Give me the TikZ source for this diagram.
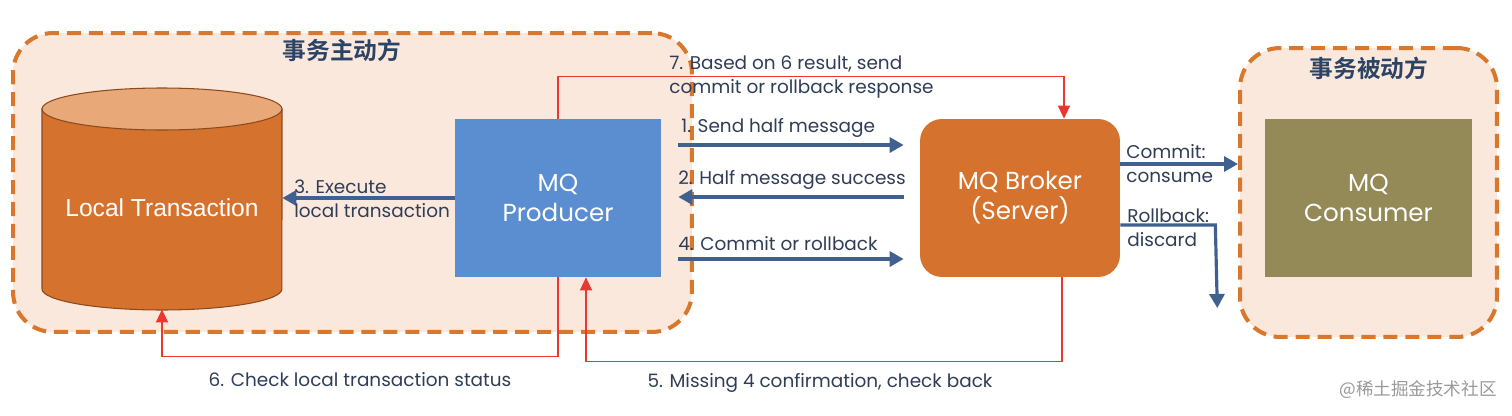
\documentclass[tikz,border=0pt]{standalone}
\usepackage{fontspec}
\setmainfont{Poppins}
\newfontfamily\cjk{Noto Sans CJK SC}
\newfontfamily\cjkbold{Noto Sans CJK SC Bold}
\newfontfamily\arialfont{Liberation Sans}
\usetikzlibrary{arrows.meta}
\definecolor{peach}{HTML}{FBE8DC}
\definecolor{dashorange}{HTML}{D9782D}
\definecolor{boxorange}{HTML}{D5722D}
\definecolor{cyltop}{HTML}{E8A877}
\definecolor{cyledge}{HTML}{8A4A1E}
\definecolor{prodblue}{HTML}{5B8ED1}
\definecolor{olive}{HTML}{948A57}
\definecolor{arrowblue}{HTML}{40618F}
\definecolor{linered}{HTML}{E8382F}
\definecolor{txtnavy}{HTML}{2F3D56}
\definecolor{titlenavy}{HTML}{2B4364}

\begin{document}
\begin{tikzpicture}[x=0.02cm,y=-0.02cm,
	group/.style={draw=dashorange,fill=peach,line width=2.3pt,dash pattern=on 8pt off 4.5pt,rounded corners=0.8cm},
	box/.style={minimum width=#1,minimum height=3.16cm,inner sep=0pt,text=white,align=center,font=\fontsize{14}{17}\selectfont},
	blue arrow/.style={draw=arrowblue,line width=1.8pt,-{Triangle[length=0.28cm,width=0.3cm]}},
	red arrow/.style={draw=linered,line width=0.8pt,-{Triangle[length=0.26cm,width=0.24cm]}},
	lbl/.style={text=txtnavy,font=\fontsize{10.5}{13.6}\selectfont,inner sep=0pt,align=left},
	title/.style={text=titlenavy,font=\cjkbold\fontsize{13.5}{16}\selectfont}]
	\useasboundingbox (0,0) rectangle (1512,416);
	\node[group,minimum width=13.58cm,minimum height=5.98cm] (active) at (352.5,182.5) {};
	\node[group,minimum width=5.14cm,minimum height=5.78cm] (passive) at (1368.5,192.5) {};
	\node[title] (activetitle) at (342,50) {事务主动方};
	\node[title] (passivetitle) at (1369,68) {事务被动方};
	\draw[cyledge,fill=boxorange,line width=0.6pt] (42,109) -- (42,289) arc[start angle=180,end angle=360,x radius=2.4cm,y radius=0.42cm] -- (282,109) -- cycle;
	\draw[cyledge,fill=cyltop,line width=0.6pt] (162,109) ellipse [x radius=2.4cm,y radius=0.42cm];
	\node[minimum width=4.8cm,minimum height=4.44cm,inner sep=0pt] (lt) at (162,198) {};
	\node[text=white,font=\arialfont\fontsize{14}{17}\selectfont] (ltlabel) at (162,208) {Local Transaction};
	\node[box=4.12cm,fill=prodblue] (prod) at (558,198) {MQ\\Producer};
	\node[box=4cm,fill=boxorange,rounded corners=0.44cm] (brk) at (1020,198) {MQ Broker\\(Server)};
	\node[box=4.14cm,fill=olive] (cons) at (1368.5,198) {MQ\\Consumer};
	\draw[blue arrow] (prod.west) -- (lt.east);
	\draw[blue arrow] ([shift={(17,-53)}]prod.east) -- ([shift={(-16,-53)}]brk.west);
	\draw[blue arrow] ([shift={(-16,-1)}]brk.west) -- ([shift={(17,-1)}]prod.east);
	\draw[blue arrow] ([shift={(17,61)}]prod.east) -- ([shift={(-16,61)}]brk.west);
	\coordinate (commit) at ([shift={(0,-34)}]brk.east);
	\coordinate (rollback) at ([shift={(0,27)}]brk.east);
	\draw[blue arrow] (commit) -- (commit -| passive.west);
	\draw[blue arrow] (rollback) -- ++(95,0) -- ++(2,83);
	\draw[red arrow] (prod.south) -- ++(0,79) -| (lt.south);
	\draw[red arrow] ([shift={(42,0)}]brk.south) -- ++(0,84) -| ([shift={(28,0)}]prod.south);
	\draw[red arrow] (prod.north) -- ++(0,-42) -| ([shift={(44,0)}]brk.north);
	\node[lbl,anchor=west] (l1) at (681,128) {1. Send half message};
	\node[lbl,anchor=west] (l2) at (678,180) {2. Half message success};
	\node[lbl,anchor=west] (l3) at (294,199) {3. Execute\\local transaction};
	\node[lbl,anchor=west] (l4) at (678,244) {4. Commit or rollback};
	\node[lbl] (l5) at (820,383) {5. Missing 4 confirmation, check back};
	\node[lbl] (l6) at (360,380) {6. Check local transaction status};
	\node[lbl,anchor=west] (l7) at (669,77) {7. Based on 6 result, send\\commit or rollback response};
	\node[lbl,anchor=west] (lcommit) at (1126,164) {Commit:\\consume};
	\node[lbl,anchor=west] (lrollback) at (1127,228) {Rollback:\\discard};
	\node[text=black!40,font=\cjk\fontsize{10}{12}\selectfont] (mark) at (1418,390) {@稀土掘金技术社区};
\end{tikzpicture}
\end{document}
